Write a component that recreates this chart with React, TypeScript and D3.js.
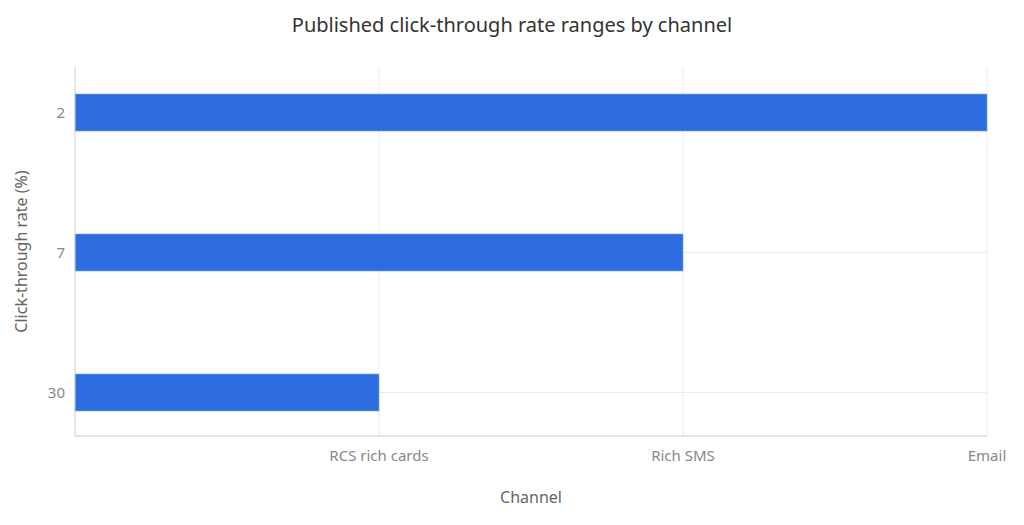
import React from "react";
import * as d3 from "d3";

const channels = ["RCS rich cards", "Rich SMS", "Email"];
const rateLabels = ["2", "7", "30"];
const barChannel = ["Email", "Rich SMS", "RCS rich cards"];

const W = 1024, H = 525;
const L = 75, R = 987, T = 67, B = 436;

export default function App() {
  const x = d3.scaleLinear().domain([0, channels.length]).range([L, R]);
  const xc = (c: string) => x(channels.indexOf(c) + 1);
  const y = d3.scalePoint<string>().domain(rateLabels).range([T + 1, B + 1]).padding(0.318);
  const barH = 37;
  const font = "'Noto Sans', 'Open Sans', sans-serif";
  return (
    <svg width={W} height={H} style={{ position: "absolute", left: 0, top: 0 }} fontFamily={font}>
      <rect width={W} height={H} fill="#fff" />
      <text x={512} y={32} textAnchor="middle" fontSize={20} fill="#333">Published click-through rate ranges by channel</text>
      {channels.map((c) => (
        <line key={c} x1={xc(c)} x2={xc(c)} y1={T} y2={B} stroke="#ececec" />
      ))}
      {rateLabels.map((r) => (
        <line key={r} x1={L} x2={R} y1={y(r)!} y2={y(r)!} stroke="#ececec" />
      ))}
      {rateLabels.map((r, i) => (
        <rect key={r} x={L} y={y(r)! - barH / 2} width={xc(barChannel[i]) - L} height={barH}
          fill="#2e6ddf" stroke="#7fa6ec" strokeWidth={0.6} />
      ))}
      <line x1={L} x2={L} y1={T} y2={B} stroke="#ccc" />
      <line x1={L} x2={R} y1={B} y2={B} stroke="#ccc" />
      {rateLabels.map((r) => (
        <text key={r} x={65} y={y(r)!} dy="0.35em" textAnchor="end" fontSize={15} fill="#888">{r}</text>
      ))}
      {channels.map((c) => (
        <text key={c} x={xc(c)} y={461} textAnchor="middle" fontSize={15} fill="#888">{c}</text>
      ))}
      <text x={(L + R) / 2} y={503} textAnchor="middle" fontSize={16} fill="#666">Channel</text>
      <text transform={`translate(27,${(T + B) / 2}) rotate(-90)`} textAnchor="middle" fontSize={16} fill="#666">Click-through rate (%)</text>
    </svg>
  );
}
